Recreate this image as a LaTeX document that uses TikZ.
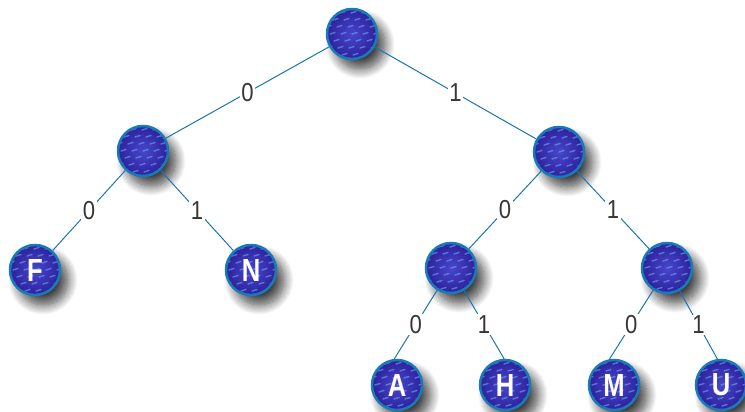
\documentclass[tikz,border=0pt]{standalone}
\usepackage{fontspec}
\newfontfamily\bitfont[FakeStretch=0.85]{Liberation Sans}
\newfontfamily\letterfont[FakeStretch=0.8]{Liberation Sans}
\usetikzlibrary{shadows.blur}

\definecolor{edgeblue}{RGB}{26,117,178}
\definecolor{rimblue}{RGB}{24,122,182}
\definecolor{deepviolet}{RGB}{46,34,156}
\definecolor{paleviolet}{RGB}{72,70,205}
\definecolor{streakblue}{RGB}{105,170,240}
\definecolor{bitgray}{RGB}{55,55,55}

\tikzset{
  streak/.style={draw=streakblue, line width=1.4pt, line cap=round, opacity=0.6},
  knot/.style={circle, minimum size=50pt, inner sep=0pt, line width=2.5pt, draw=rimblue,
    inner color=paleviolet, outer color=deepviolet,
    blur shadow={shadow xshift=8pt, shadow yshift=-10pt, shadow blur radius=10pt,
      shadow blur steps=14, shadow opacity=75},
    path picture={
      \foreach \u in {-3,...,3}
        \foreach \v in {-4,...,4}
          \draw[streak] ([shift={(\u*11+\v*4,\v*7)}]path picture bounding box.center) -- ++(5,-1.5);
    },
    text=white, font=\letterfont\bfseries\fontsize{32}{32}\selectfont},
  branch/.style={draw=edgeblue, line width=1pt},
  bit/.style={fill=white, inner sep=1.5pt, text=bitgray, font=\bitfont\fontsize{26}{26}\selectfont}
}

\begin{document}
\begin{tikzpicture}[x=1pt, y=-1pt]
  \useasboundingbox (0,0) rectangle (745,412);

  % inner knots
  \node[knot] (root) at (352,34) {};
  \node[knot] (k0) at (143,151) {};
  \node[knot] (k1) at (559,152) {};
  \node[knot] (k10) at (451,268) {};
  \node[knot] (k11) at (667,268) {};

  % leaves
  \node[knot] (F) at (35,270) {F};
  \node[knot] (N) at (251,270) {N};
  \node[knot] (A) at (397,385) {A};
  \node[knot] (H) at (505,385) {H};
  \node[knot] (M) at (614,385) {M};
  \node[knot] (U) at (721,385) {U};

  % branches
  \draw[branch] (root) -- (k0) node[bit, midway] {0};
  \draw[branch] (root) -- (k1) node[bit, midway] {1};
  \draw[branch] (k0) -- (F) node[bit, midway] {0};
  \draw[branch] (k0) -- (N) node[bit, midway] {1};
  \draw[branch] (k1) -- (k10) node[bit, midway] {0};
  \draw[branch] (k1) -- (k11) node[bit, midway] {1};
  \draw[branch] (k10.-122) -- (A.96) node[bit, midway] {0};
  \draw[branch] (k10.-60) -- (H.92) node[bit, midway] {1};
  \draw[branch] (k11.-122) -- (M.100) node[bit, midway] {0};
  \draw[branch] (k11.-61) -- (U.98) node[bit, midway] {1};
\end{tikzpicture}
\end{document}
